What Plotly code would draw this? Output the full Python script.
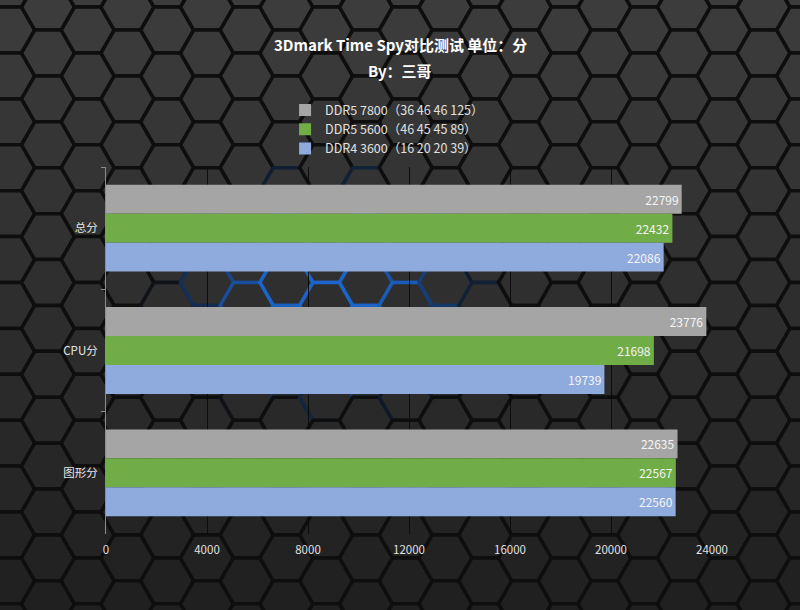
import math
import plotly.graph_objects as go

categories = ["总分", "CPU分", "图形分"]
series_names = ["DDR5 7800（36 46 46 125）", "DDR5 5600（46 45 45 89）", "DDR4 3600（16 20 20 39）"]
ddr5_7800 = [22799, 23776, 22635]
ddr5_5600 = [22432, 21698, 22567]
ddr4_3600 = [22086, 19739, 22560]
series_colors = ["#A5A5A5", "#70AD47", "#8FAADC"]
x_ticks = [0, 4000, 8000, 12000, 16000, 20000, 24000]

W, H = 800, 610
ML, MR, MT, MB = 106, 88, 167, 76
PW, PH = W - ML - MR, H - MT - MB

def px2paper(px, py):
    return (px - ML) / PW, (H - MB - py) / PH

fig = go.Figure()
for name, vals, col in zip(series_names, [ddr5_7800, ddr5_5600, ddr4_3600], series_colors):
    fig.add_trace(go.Bar(
        y=categories, x=vals, name=name, orientation="h",
        marker=dict(color=col, line=dict(width=0)),
        text=[str(v) for v in vals], textposition="inside", insidetextanchor="end",
        textfont=dict(color="#f4f4f4", size=12, family="Noto Sans CJK SC"),
        cliponaxis=False,
    ))

# hexagon background decoration
shapes = []
s = 26.5
hh = math.sqrt(3) * s
x_start, y_start = 48, 53
def lerp(a, b, t):
    return int(round(a + (b - a) * t))
for i in range(-2, 24):
    cx = x_start + i * 1.5 * s
    off = 0 if i % 2 == 0 else -hh / 2
    for j in range(-2, 16):
        cy = y_start + j * hh + off
        if cx < -40 or cx > W + 40 or cy < -40 or cy > H + 40:
            continue
        pts = []
        for k in range(6):
            a = math.radians(60 * k)
            pts.append(px2paper(cx + s * math.cos(a), cy + s * math.sin(a)))
        path = "M " + " L ".join(f"{p[0]:.4f},{p[1]:.4f}" for p in pts) + " Z"
        t = min(max(cy / H, 0), 1)
        g = lerp(60, 32, t)
        fill = f"rgb({g},{g},{g})"
        d = math.sqrt(((cx - 335) / 175) ** 2 + ((cy - 295) / 125) ** 2)
        if d < 1:
            bt = min(0.85, (1 - d) * 1.3)
            line_col = f"rgb({lerp(14, 30, bt)},{lerp(14, 115, bt)},{lerp(14, 235, bt)})"
        else:
            line_col = "rgb(14,14,14)"
        shapes.append(dict(type="path", path=path, xref="paper", yref="paper",
                           fillcolor=fill, line=dict(color=line_col, width=3.5), layer="below"))

fig.update_layout(
    width=W, height=H,
    margin=dict(l=ML, r=MR, t=MT, b=MB),
    paper_bgcolor="#141414",
    plot_bgcolor="rgba(0,0,0,0)",
    barmode="group", bargap=0.29, bargroupgap=0.0,
    font=dict(family="Noto Sans CJK SC", color="#d9d9d9", size=12),
    legend=dict(x=0.2955, xanchor="left", y=1.195, yanchor="top", orientation="v",
                bgcolor="rgba(0,0,0,0)", font=dict(size=12.5, color="#e0e0e0"),
                itemwidth=30, tracegroupgap=0),
    xaxis=dict(range=[0, 24000], tickvals=x_ticks, ticktext=[str(v) for v in x_ticks],
               showgrid=True, gridcolor="rgba(10,10,10,0.9)", gridwidth=1,
               zeroline=False, showline=False, ticks="", ticklabelstandoff=7,
               tickfont=dict(size=11.5, color="#e0e0e0")),
    yaxis=dict(autorange="reversed", showline=True, linecolor="#8c8c8c", linewidth=1,
               ticks="outside", tickson="boundaries", ticklen=4, tickcolor="#8c8c8c",
               ticklabelstandoff=5,
               showgrid=False, tickfont=dict(size=11.5, color="#e6e6e6")),
    shapes=shapes,
    annotations=[
        dict(text="<b>3Dmark Time Spy对比测试 单位：分</b>", xref="paper", yref="paper",
             x=px2paper(400, 45)[0], y=px2paper(400, 45)[1], xanchor="center", yanchor="middle",
             showarrow=False, font=dict(size=15, color="#ffffff", family="Noto Sans CJK SC")),
        dict(text="<b>By：三哥</b>", xref="paper", yref="paper",
             x=px2paper(400, 70)[0], y=px2paper(400, 70)[1], xanchor="center", yanchor="middle",
             showarrow=False, font=dict(size=15, color="#ffffff", family="Noto Sans CJK SC")),
    ],
    showlegend=True,
)
fig.write_html("out.html", config={"displayModeBar": False},
               post_script="document.body.style.margin='0';document.body.style.background='#141414';")
